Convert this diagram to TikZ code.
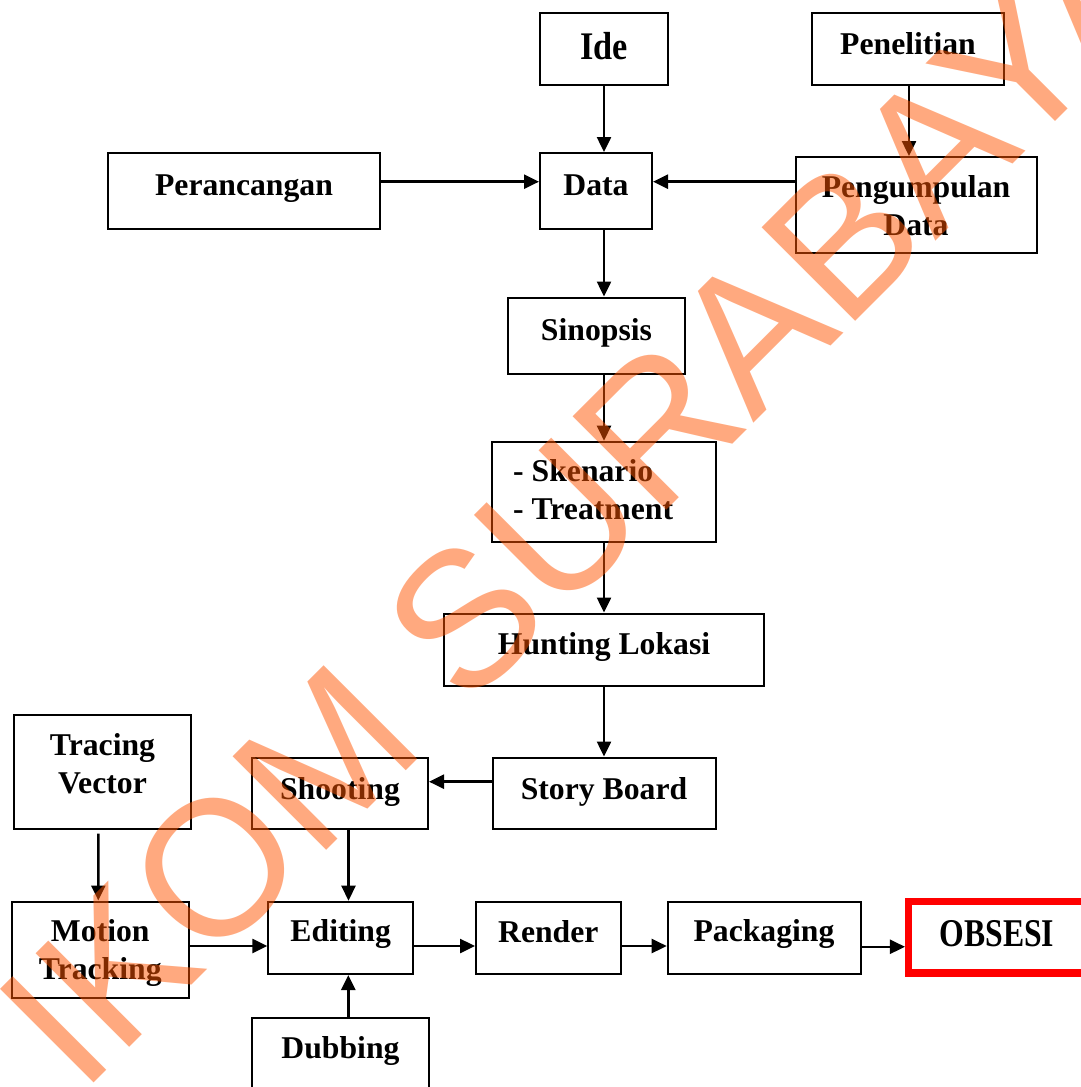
\documentclass[tikz,border=0pt]{standalone}
\usepackage{fontspec}
\setmainfont{Liberation Serif}
\newfontfamily\wmfont{Liberation Sans}
\usetikzlibrary{arrows.meta,calc}
\definecolor{wmcol}{RGB}{255,85,0}
\definecolor{obred}{RGB}{255,0,0}
\begin{document}
\begin{tikzpicture}[x=1pt,y=-1pt,
  box/.style={draw=black, line width=2pt, inner sep=0pt},
  redbox/.style={draw=obred, line width=7.5pt, inner sep=0pt},
  lbl/.style={font=\bfseries\fontsize{31.7}{37.5}\selectfont, inner sep=0pt, anchor=base},
  lblw/.style={lbl, anchor=base west},
  arr/.style={line width=2.5pt, -{Triangle[length=15pt,width=14pt]}},
  wm/.style={font=\wmfont\fontsize{192.4}{192.4}\selectfont, text=wmcol, text opacity=0.5, rotate=45, anchor=base west, inner sep=0pt}]
\useasboundingbox (0,0) rectangle (1081,1087);
\fill[white] (0,0) rectangle (1081,1087);
\clip (0,0) rectangle (1081,1087);

% boxes
\node[box, minimum width=128pt, minimum height=71.5pt] (ide) at (604,48.75) {};
\node[box, minimum width=192pt, minimum height=72pt] (pen) at (908,49) {};
\node[box, minimum width=272pt, minimum height=76pt] (per) at (244,191) {};
\node[box, minimum width=112pt, minimum height=76pt] (data) at (596,191) {};
\node[box, minimum width=240.5pt, minimum height=96pt] (peng) at (916.25,205) {};
\node[box, minimum width=177pt, minimum height=76pt] (sin) at (596.5,335.5) {};
\node[box, minimum width=224pt, minimum height=100pt] (sken) at (604,491.7) {};
\node[box, minimum width=320pt, minimum height=72pt] (hunt) at (604,649.5) {};
\node[box, minimum width=223.5pt, minimum height=71.5pt] (story) at (604.25,793.25) {};
\node[box, minimum width=176pt, minimum height=71.5pt] (shoot) at (340,793.25) {};
\node[box, minimum width=176.7pt, minimum height=114pt] (trac) at (102.35,772) {};
\node[box, minimum width=176.4pt, minimum height=96pt] (mot) at (100.5,949.5) {};
\node[box, minimum width=144.4pt, minimum height=72.3pt] (edit) at (340.5,937.85) {};
\node[box, minimum width=144.6pt, minimum height=72.3pt] (rend) at (548.3,937.85) {};
\node[box, minimum width=192.8pt, minimum height=72.3pt] (pack) at (764.1,937.85) {};
\node[redbox, minimum width=176.6pt, minimum height=71.5pt] (obs) at (997,937.25) {};
\node[box, minimum width=176.4pt, minimum height=76.7pt] (dub) at (340.5,1056.65) {};

% texts
\node[lbl, font=\bfseries\fontsize{34.3}{40}\selectfont] (tide) at (604,59.3) {\scalebox{1}[1.14]{Ide}};
\node[lbl] (tpen) at (908,54) {Penelitian};
\node[lbl] (tper) at (244,195) {Perancangan};
\node[lbl] (tdata) at (596,195) {Data};
\node[lbl] (tpeng1) at (916,197.7) {Pengumpulan};
\node[lbl] (tpeng2) at (916,235) {Data};
\node[lbl] (tsin) at (596.5,340.5) {Sinopsis};
\node[lblw] (tsk1) at (513,481.7) {- Skenario};
\node[lblw] (tsk2) at (513,519) {- Treatment};
\node[lbl] (thunt) at (604,654) {Hunting Lokasi};
\node[lbl] (tstory) at (604,799) {Story Board};
\node[lbl] (tshoot) at (340,799) {Shooting};
\node[lbl] (ttrac1) at (102.5,755) {Tracing};
\node[lbl] (ttrac2) at (102.5,793) {Vector};
\node[lbl] (tmot1) at (100.3,941.7) {Motion};
\node[lbl] (tmot2) at (100.3,979.3) {Tracking};
\node[lbl] (tedit) at (340.7,941.7) {Editing};
\node[lbl] (trend) at (548.3,942) {Render};
\node[lbl] (tpack) at (764,941.7) {Packaging};
\node[lbl] (tobs) at (997,946.7) {\scalebox{1}[1.24]{OBSESI}};
\node[lbl] (tdub) at (340.5,1058) {Dubbing};

% connectors
\draw[arr] (ide.south) -- (ide.south |- data.north);
\draw[arr] ($(pen.south)+(1,0)$) -- ($(pen.south |- peng.north)+(1,0)$);
\draw[arr] ($(per.east)+(0,-9.3)$) -- ($(data.west)+(0,-9.3)$);
\draw[arr] ($(peng.west)+(0,-23.3)$) -- ($(data.east)+(0,-9.3)$);
\draw[arr] (ide.south |- data.south) -- (ide.south |- sin.north);
\draw[arr] (sken.north |- sin.south) -- (sken.north);
\draw[arr] (sken.south) -- (hunt.north);
\draw[arr] (hunt.south) -- (hunt.south |- story.north);
\draw[arr] ($(story.west)+(0,-11.55)$) -- ($(shoot.east)+(0,-11.55)$);
\draw[arr] ($(trac.south)+(-4,3.7)$) -- ($(mot.north)+(-2.2,0)$);
\draw[arr] ($(shoot.south)+(8.5,0)$) -- ($(edit.north)+(8,0)$);
\draw[arr] ($(mot.east)+(0,-3.5)$) -- ($(edit.west)+(0,8.15)$);
\draw[arr] ($(edit.east)+(0,8.15)$) -- ($(rend.west)+(0,8.15)$);
\draw[arr] ($(rend.east)+(0,8.15)$) -- ($(pack.west)+(0,8.15)$);
\draw[arr] ($(pack.east)+(0,8.9)$) -- ($(obs.west)+(0,9.5)$);
\draw[arr] ($(dub.north)+(7.8,0)$) -- ($(edit.south)+(7.8,0)$);

% watermark
\node[wm] (wmark) at (81,1096) {IKOM SURABAYA};
\end{tikzpicture}
\end{document}
